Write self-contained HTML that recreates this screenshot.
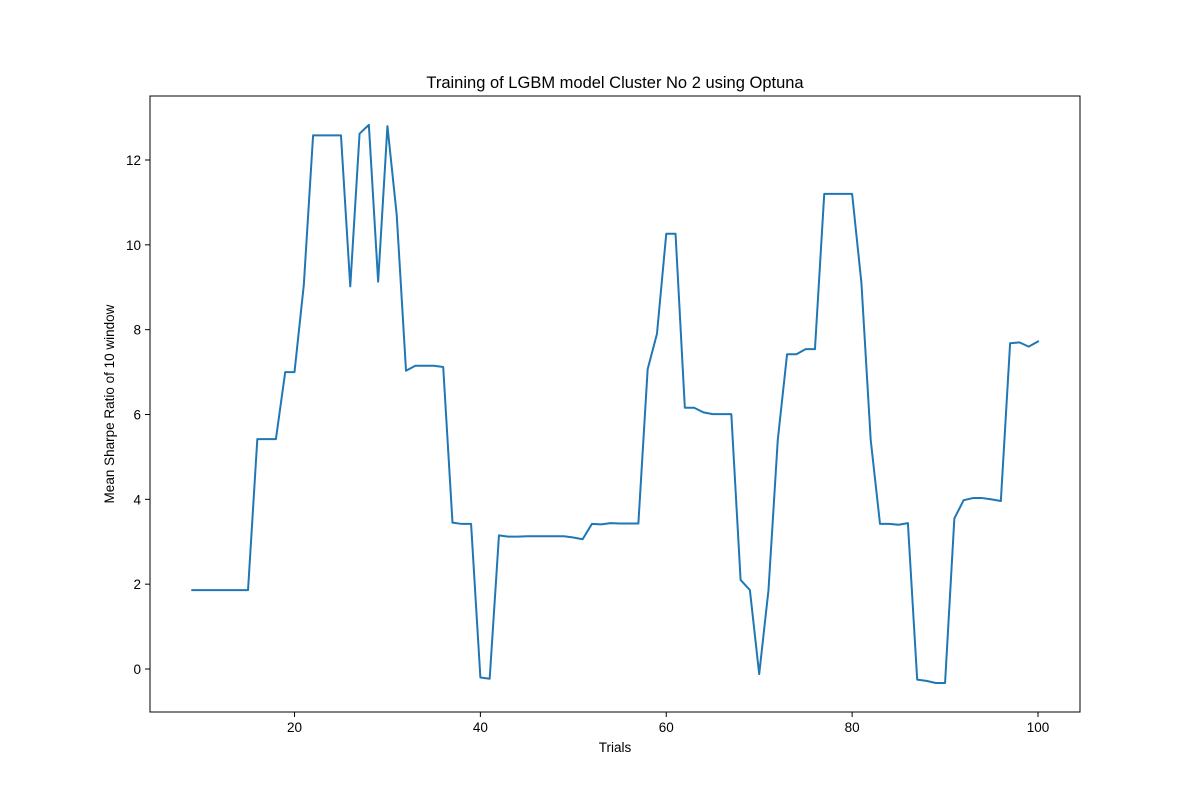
<!DOCTYPE html>
<html><head><meta charset="utf-8"><style>
body{margin:0;background:#fff;}
svg{display:block;font-family:"Liberation Sans","DejaVu Sans",sans-serif;}
</style></head><body>
<svg id="chart" width="1200" height="800" viewBox="0 0 1200 800"></svg>
<script>
const trials = [];
for (let t = 9; t <= 100; t++) trials.push(t);
const sharpeValues = [1.86,1.86,1.86,1.86,1.86,1.86,1.86,5.42,5.42,5.42,7.0,7.0,9.05,12.58,12.58,12.58,12.58,9.02,12.62,12.83,9.13,12.8,10.7,7.03,7.15,7.15,7.15,7.12,3.45,3.42,3.42,-0.2,-0.23,3.15,3.12,3.12,3.13,3.13,3.13,3.13,3.13,3.1,3.06,3.42,3.41,3.44,3.43,3.43,3.43,7.07,7.9,10.26,10.26,6.16,6.16,6.05,6.01,6.01,6.01,2.1,1.86,-0.12,1.86,5.4,7.42,7.42,7.54,7.54,11.2,11.2,11.2,11.2,9.1,5.4,3.42,3.42,3.4,3.44,-0.25,-0.28,-0.33,-0.33,3.55,3.98,4.03,4.03,4.0,3.96,7.68,7.7,7.6,7.72];
const xTicks = [20,40,60,80,100];
const yTicks = [0,2,4,6,8,10,12];

const svg = document.getElementById('chart');
const NS = 'http://www.w3.org/2000/svg';
const L=150,R=1080,T=96,B=712;
const xs = v => 294.5 + (v-20)*(1038-294.5)/80;
const ys = v => 669 - v*(669-160)/12;
function mk(tag, attrs, txt){const e=document.createElementNS(NS,tag);for(const k in attrs)e.setAttribute(k,attrs[k]);if(txt!==undefined)e.textContent=txt;svg.appendChild(e);return e;}

let d = trials.map((t,i)=>(i?'L':'M')+xs(t).toFixed(2)+','+ys(sharpeValues[i]).toFixed(2)).join(' ');
const line = mk('path',{d:d,fill:'none',stroke:'#1f77b4','stroke-width':2,'stroke-linejoin':'round','stroke-linecap':'square'});



const frame = mk('rect',{x:L,y:T,width:R-L,height:B-T,fill:'none',stroke:'#000','stroke-width':1});



xTicks.forEach(v=>{
  const x=xs(v);
  const tk = mk('line',{x1:x,x2:x,y1:B,y2:B+5,stroke:'#000','stroke-width':1});
  
  
  const lb = mk('text',{x:x,y:B+20,'text-anchor':'middle','font-size':13.5},String(v));
  
  
});
yTicks.forEach(v=>{
  const y=ys(v);
  const tk = mk('line',{x1:L-5,x2:L,y1:y,y2:y,stroke:'#000','stroke-width':1});
  
  
  const lb = mk('text',{x:L-9,y:y+5,'text-anchor':'end','font-size':13.5},String(v));
  
  
});
const title = mk('text',{x:615,y:88,'text-anchor':'middle','font-size':16.5},'Training of LGBM model Cluster No 2 using Optuna');


const xt = mk('text',{x:615,y:752,'text-anchor':'middle','font-size':13.5},'Trials');


const yt = mk('text',{x:0,y:0,'text-anchor':'middle','font-size':13.5,transform:'translate(114,404) rotate(-90)'},'Mean Sharpe Ratio of 10 window');


</script>
</body></html>
